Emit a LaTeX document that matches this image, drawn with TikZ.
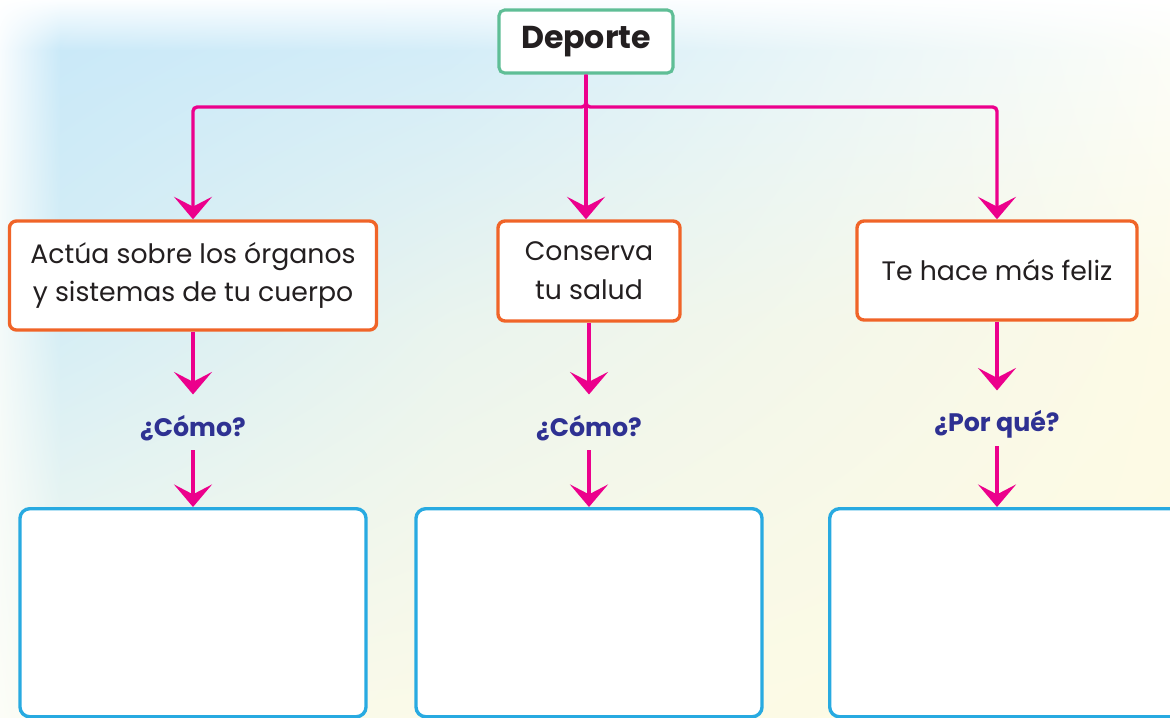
\documentclass[tikz,border=0pt]{standalone}
\usepackage{fontspec}
\setmainfont{Poppins}
\usetikzlibrary{arrows.meta,shadings}
\definecolor{mag}{RGB}{236,0,140}
\definecolor{orng}{RGB}{240,100,40}
\definecolor{grn}{RGB}{95,190,150}
\definecolor{cyanb}{RGB}{40,170,225}
\definecolor{navy}{RGB}{46,49,146}
\definecolor{txt}{RGB}{35,31,32}
% background colour grid: cRC, R = row (0..3), C = column (0..3)
\definecolor{c00}{RGB}{255,255,255}
\definecolor{c01}{RGB}{252,254,255}
\definecolor{c02}{RGB}{250,253,255}
\definecolor{c03}{RGB}{255,255,255}
\definecolor{c10}{RGB}{248,252,254}
\definecolor{c11}{RGB}{202,233,248}
\definecolor{c12}{RGB}{212,237,248}
\definecolor{c13}{RGB}{252,253,248}
\definecolor{c20}{RGB}{244,250,249}
\definecolor{c21}{RGB}{214,238,245}
\definecolor{c22}{RGB}{234,244,238}
\definecolor{c23}{RGB}{253,250,230}
\definecolor{c30}{RGB}{252,253,247}
\definecolor{c31}{RGB}{248,250,238}
\definecolor{c32}{RGB}{251,250,232}
\definecolor{c33}{RGB}{254,251,226}
\tikzset{
  conn/.style={draw=mag, line width=2.4pt},
  arr/.style={conn, -{Stealth[length=16pt, width=27pt, inset=7pt]}},
  topbox/.style={draw=grn, line width=2.2pt, fill=white, rounded corners=4pt,
     minimum width=4.35cm, minimum height=1.575cm, font=\fontsize{22.5}{26}\selectfont\bfseries, text=txt},
  midbox/.style={draw=orng, line width=2.4pt, fill=white, rounded corners=5pt,
     align=center, font=\fontsize{19}{27.5}\selectfont, text=txt},
  question/.style={text=navy, font=\fontsize{18}{22}\selectfont\bfseries, minimum height=1.1cm, inner sep=0pt},
  ansbox/.style={draw=cyanb, line width=2.4pt, fill=white, rounded corners=7pt},
  bgcell/.style n args={4}{upper left=#1, upper right=#2, lower left=#3, lower right=#4},
}
\begin{document}
\begin{tikzpicture}[x=0.025cm, y=-0.025cm]
\useasboundingbox (0,0) rectangle (1170,717);
% background (bilinear colour grid)
\shade[bgcell={c00}{c01}{c10}{c11}] (0,0) rectangle (60.5,50.5);
\shade[bgcell={c01}{c02}{c11}{c12}] (60,0) rectangle (450.5,50.5);
\shade[bgcell={c02}{c03}{c12}{c13}] (450,0) rectangle (1170,50.5);
\shade[bgcell={c10}{c11}{c20}{c21}] (0,50) rectangle (60.5,330.5);
\shade[bgcell={c11}{c12}{c21}{c22}] (60,50) rectangle (450.5,330.5);
\shade[bgcell={c12}{c13}{c22}{c23}] (450,50) rectangle (1170,330.5);
\shade[bgcell={c20}{c21}{c30}{c31}] (0,330) rectangle (60.5,717);
\shade[bgcell={c21}{c22}{c31}{c32}] (60,330) rectangle (450.5,717);
\shade[bgcell={c22}{c23}{c32}{c33}] (450,330) rectangle (1170,717);
% nodes
\node[topbox] (dep) at (586,41.5) {Deporte};
\node[midbox, minimum width=9.175cm, minimum height=2.725cm] (A) at (193,275.5) {Actúa sobre los órganos\\y sistemas de tu cuerpo};
\node[midbox, minimum width=4.55cm, minimum height=2.5cm] (B) at (589,271) {Conserva\\tu salud};
\node[midbox, minimum width=7cm, minimum height=2.475cm] (C) at (997,270.5) {Te hace más feliz};
\node[question] (qa) at (193,428) {¿Cómo?};
\node[question] (qb) at (589,428) {¿Cómo?};
\node[question] (qc) at (997,424) {¿Por qué?};
\node[ansbox, minimum width=8.65cm, minimum height=5.2cm, anchor=north] (ra) at (193,507) {};
\node[ansbox, minimum width=8.65cm, minimum height=5.2cm, anchor=north] (rb) at (589,507) {};
\node[ansbox, minimum width=9cm, minimum height=5.2cm, anchor=north west] (rc) at (828,507) {};
% connectors
\coordinate (hl) at (0,107);
\draw[arr, rounded corners=3pt] (dep.south) |- (A.north |- hl) -- (A.north);
\draw[arr, rounded corners=3pt] (dep.south) |- (C.north |- hl) -- (C.north);
\draw[arr] (dep.south) -- (dep.south |- B.north);
\draw[arr, shorten >=8pt] (A.south) -- (A.south |- qa.north);
\draw[arr, shorten >=8pt] (B.south) -- (B.south |- qb.north);
\draw[arr, shorten >=8pt] (C.south) -- (C.south |- qc.north);
\draw[arr] (qa.south) -- (qa.south |- ra.north);
\draw[arr] (qb.south) -- (qb.south |- rb.north);
\draw[arr] (qc.south) -- (qc.south |- rc.north);
\end{tikzpicture}
\end{document}
